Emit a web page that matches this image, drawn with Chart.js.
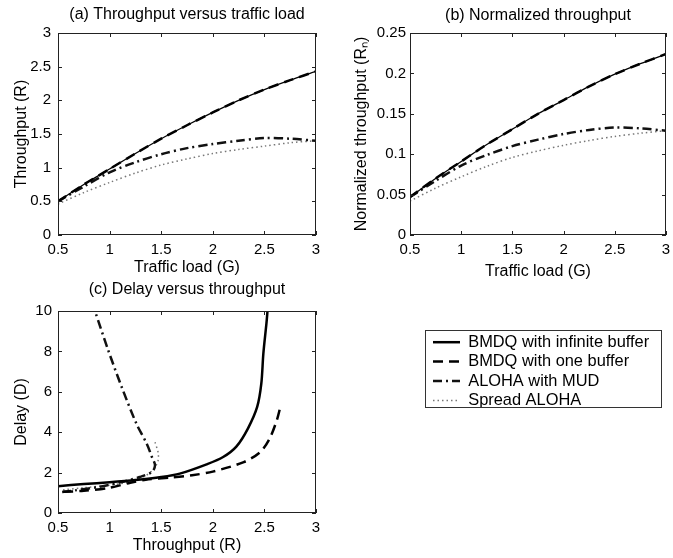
<!DOCTYPE html>
<html><head><meta charset="utf-8">
<script src="https://cdn.jsdelivr.net/npm/chart.js@4.4.0/dist/chart.umd.min.js"></script>
<style>
html,body{margin:0;padding:0;background:#fff;}
body{width:673px;height:558px;position:relative;overflow:hidden;}
canvas{position:absolute;display:block;}
#legendBox{position:absolute;left:425px;top:330px;width:237px;height:78px;border:1px solid #333;box-sizing:border-box;background:#fff;}
#legendBox canvas{position:absolute;left:0;top:0;}
</style></head><body>
<canvas id="ca" width="374" height="277" style="left:0;top:0"></canvas>
<canvas id="cb" width="396" height="281" style="left:340px;top:0"></canvas>
<canvas id="cc" width="374" height="285" style="left:0;top:270px"></canvas>
<div id="legendBox"><canvas id="cl" width="235" height="76"></canvas></div>
<script>
// ---------- data ----------
const seriesNames = ["BMDQ with infinite buffer", "BMDQ with one buffer", "ALOHA with MUD", "Spread ALOHA"];
const titleA = "(a) Throughput versus traffic load";
const titleB = "(b) Normalized throughput";
const titleC = "(c) Delay versus throughput";
const xTitleAB = "Traffic load (G)";
const yTitleA = "Throughput (R)";
const yTitleB = "Normalized throughput (R\u2099)";
const xTitleC = "Throughput (R)";
const yTitleC = "Delay (D)";

const xTicks = [0.5, 1, 1.5, 2, 2.5, 3];
const yTicksA = [0, 0.5, 1, 1.5, 2, 2.5, 3];
const yTicksB = [0, 0.05, 0.1, 0.15, 0.2, 0.25];
const yTicksC = [0, 2, 4, 6, 8, 10];

const loadG = [0.5, 0.75, 1, 1.25, 1.5, 1.75, 2, 2.25, 2.5, 2.75, 3];
// (a) throughput
const aInf    = [0.50, 0.75, 0.98, 1.21, 1.43, 1.63, 1.82, 2.00, 2.16, 2.30, 2.43];
const aOne    = [0.50, 0.75, 0.98, 1.21, 1.43, 1.63, 1.82, 2.00, 2.16, 2.30, 2.43];
const aMud    = [0.50, 0.72, 0.93, 1.08, 1.20, 1.29, 1.35, 1.40, 1.44, 1.43, 1.40];
const aSpread = [0.46, 0.63, 0.78, 0.92, 1.04, 1.13, 1.21, 1.27, 1.32, 1.37, 1.40];
// (b) normalized throughput
const bInf    = [0.047, 0.070, 0.091, 0.112, 0.131, 0.150, 0.167, 0.184, 0.199, 0.212, 0.224];
const bOne    = [0.047, 0.070, 0.091, 0.112, 0.131, 0.150, 0.167, 0.184, 0.199, 0.212, 0.224];
const bMud    = [0.047, 0.067, 0.086, 0.099, 0.110, 0.118, 0.125, 0.130, 0.133, 0.132, 0.129];
const bSpread = [0.042, 0.058, 0.072, 0.085, 0.096, 0.104, 0.111, 0.117, 0.122, 0.126, 0.129];
// (c) delay versus throughput (parametric curves)
const cInfR = [0.5, 0.75, 1.0, 1.25, 1.5, 1.68, 1.94, 2.1, 2.23, 2.34, 2.43, 2.47, 2.49, 2.52, 2.53];
const cInfD = [1.33, 1.43, 1.52, 1.63, 1.78, 1.95, 2.41, 2.77, 3.3, 4.18, 5.25, 6.4, 7.9, 9.4, 10];
const cOneR = [0.55, 0.75, 1.0, 1.2, 1.35, 1.6, 1.8, 2.0, 2.3, 2.46, 2.55, 2.62, 2.66];
const cOneD = [1.05, 1.1, 1.25, 1.5, 1.65, 1.76, 1.87, 2.05, 2.52, 3.02, 3.68, 4.59, 5.37];
const cMudR = [0.54, 0.665, 0.89, 1.117, 1.29, 1.41, 1.44, 1.41, 1.36, 1.26, 1.117, 0.987, 0.858];
const cMudD = [1.04, 1.12, 1.29, 1.53, 1.78, 2.03, 2.36, 2.77, 3.43, 4.42, 6.24, 8.05, 10];
const cSprR = [0.55, 0.75, 1.0, 1.2, 1.35, 1.43, 1.47, 1.47, 1.44];
const cSprD = [1.15, 1.25, 1.38, 1.55, 1.85, 2.2, 2.6, 3.0, 3.5];

// ---------- styles ----------
const styles = [
  {borderColor:'#000', borderWidth:2.5, borderDash:[], order:1},
  {borderColor:'#000', borderWidth:2.5, borderDash:[10,6], order:0},
  {borderColor:'#111', borderWidth:2.5, borderDash:[9,4,2,4], order:2},
  {borderColor:'#777', borderWidth:1.5, borderDash:[1.5,3], order:3}
];
const FONT = "'Liberation Sans', Arial, Helvetica, sans-serif";
Chart.defaults.font.family = FONT;
Chart.defaults.color = '#000';

const zip = (xs, ys) => xs.map((x, i) => ({x: x, y: ys[i]}));
function ds(i, xs, ys, extra) {
  return Object.assign({label: seriesNames[i], data: zip(xs, ys), showLine: true, pointRadius: 0,
    tension: 0.3, fill: false, borderCapStyle: 'butt'}, styles[i], extra || {});
}
const thin = {borderWidth: 1.3};

const boxTicks = {
  id: 'boxTicks',
  afterDatasetsDraw(chart) {
    const {ctx, chartArea: a, scales} = chart;
    if (!scales.x || !scales.x.options.display) return;
    ctx.save();
    ctx.strokeStyle = '#222';
    ctx.lineWidth = 1;
    ctx.setLineDash([]);
    ctx.strokeRect(a.left + 0.5, a.top + 0.5, a.right - a.left - 1, a.bottom - a.top - 1);
    const L = 4;
    ctx.beginPath();
    scales.x.ticks.forEach(t => {
      const p = Math.round(scales.x.getPixelForValue(t.value)) + 0.5;
      ctx.moveTo(p, a.bottom); ctx.lineTo(p, a.bottom - L);
      ctx.moveTo(p, a.top); ctx.lineTo(p, a.top + L);
    });
    scales.y.ticks.forEach(t => {
      const p = Math.round(scales.y.getPixelForValue(t.value)) + 0.5;
      ctx.moveTo(a.left, p); ctx.lineTo(a.left + L, p);
      ctx.moveTo(a.right, p); ctx.lineTo(a.right - L, p);
    });
    ctx.stroke();
    ctx.restore();
  }
};

function axis(min, max, tickArr, title, fit, tickPad, titlePad, isX) {
  return {
    type: 'linear', min: min, max: max,
    afterFit: s => { if (isX) s.height = fit; else s.width = fit; },
    afterBuildTicks: s => { s.ticks = tickArr.map(v => ({value: v})); },
    ticks: {padding: tickPad, font: {size: 15}, color: '#000', maxRotation: 0, minRotation: 0,
      autoSkip: false, callback: v => String(v)},
    grid: {display: false, drawTicks: false},
    border: {display: false},
    title: {display: true, text: title, font: {size: 16}, color: '#000', padding: titlePad}
  };
}

function makeChart(id, datasets, opt) {
  return new Chart(document.getElementById(id), {
    type: 'scatter',
    data: {datasets: datasets},
    options: {
      responsive: false, animation: false, devicePixelRatio: 1,
      layout: {padding: opt.pad},
      plugins: {
        legend: {display: false}, tooltip: {enabled: false},
        title: {display: true, fullSize: false, align: 'center', text: opt.title,
          font: {size: 16, weight: 'normal'}, color: '#000', padding: opt.titlePad}
      },
      scales: {
        x: axis(opt.xmin, opt.xmax, opt.xt, opt.xTitle, opt.xh, 6, {top: 0, bottom: opt.xtb}, true),
        y: axis(opt.ymin, opt.ymax, opt.yt, opt.yTitle, opt.yw, opt.ytp, {top: 12, bottom: 0}, false)
      }
    },
    plugins: [boxTicks]
  });
}

makeChart('ca', [ds(0, loadG, aInf, thin), ds(1, loadG, aOne), ds(2, loadG, aMud), ds(3, loadG, aSpread)], {
  pad: {left: 0, right: 58, top: 0, bottom: 0}, title: titleA, titlePad: {top: 5, bottom: 8.8},
  xmin: 0.5, xmax: 3, xt: xTicks, xTitle: xTitleAB, xh: 42, xtb: 0,
  ymin: 0, ymax: 3, yt: yTicksA, yTitle: yTitleA, yw: 58, ytp: 7
});
makeChart('cb', [ds(0, loadG, bInf, thin), ds(1, loadG, bOne), ds(2, loadG, bMud), ds(3, loadG, bSpread)], {
  pad: {left: 0, right: 70, top: 0, bottom: 0}, title: titleB, titlePad: {top: 6, bottom: 7.8},
  xmin: 0.5, xmax: 3, xt: xTicks, xTitle: xTitleAB, xh: 46, xtb: 0,
  ymin: 0, ymax: 0.25, yt: yTicksB, yTitle: yTitleB, yw: 70, ytp: 4
});
makeChart('cc', [ds(0, cInfR, cInfD), ds(1, cOneR, cOneD), ds(2, cMudR, cMudD), ds(3, cSprR, cSprD)], {
  pad: {left: 0, right: 58, top: 0, bottom: 0}, title: titleC, titlePad: {top: 10.4, bottom: 11.4},
  xmin: 0.5, xmax: 3, xt: xTicks, xTitle: xTitleC, xh: 42, xtb: 0,
  ymin: 0, ymax: 10, yt: yTicksC, yTitle: yTitleC, yw: 58, ytp: 6
});

// legend
const baseGen = Chart.defaults.plugins.legend.labels.generateLabels;
new Chart(document.getElementById('cl'), {
  type: 'line',
  data: {datasets: seriesNames.map((n, i) => Object.assign({label: n, data: [], pointRadius: 0, borderCapStyle: 'butt'}, styles[i], {order: 0}))},
  options: {
    responsive: false, animation: false, devicePixelRatio: 1,
    layout: {padding: {left: 4, top: 0, right: 0, bottom: 0}},
    scales: {x: {display: false}, y: {display: false}},
    plugins: {
      tooltip: {enabled: false}, title: {display: false},
      legend: {display: true, position: 'top', align: 'start', maxHeight: 200,
        labels: {usePointStyle: true, pointStyle: 'line', pointStyleWidth: 27, boxWidth: 27, boxHeight: 16,
          padding: 3, font: {size: 16.4}, color: '#000',
          generateLabels: chart => baseGen(chart).map(it => {
            const s = styles[it.datasetIndex];
            it.lineDash = s.borderDash; it.lineWidth = s.borderWidth; it.strokeStyle = s.borderColor;
            it.fillStyle = s.borderColor; it.lineCap = 'butt'; it.pointStyle = 'line';
            return it;
          })}}
    }
  }
});
</script>
</body></html>
